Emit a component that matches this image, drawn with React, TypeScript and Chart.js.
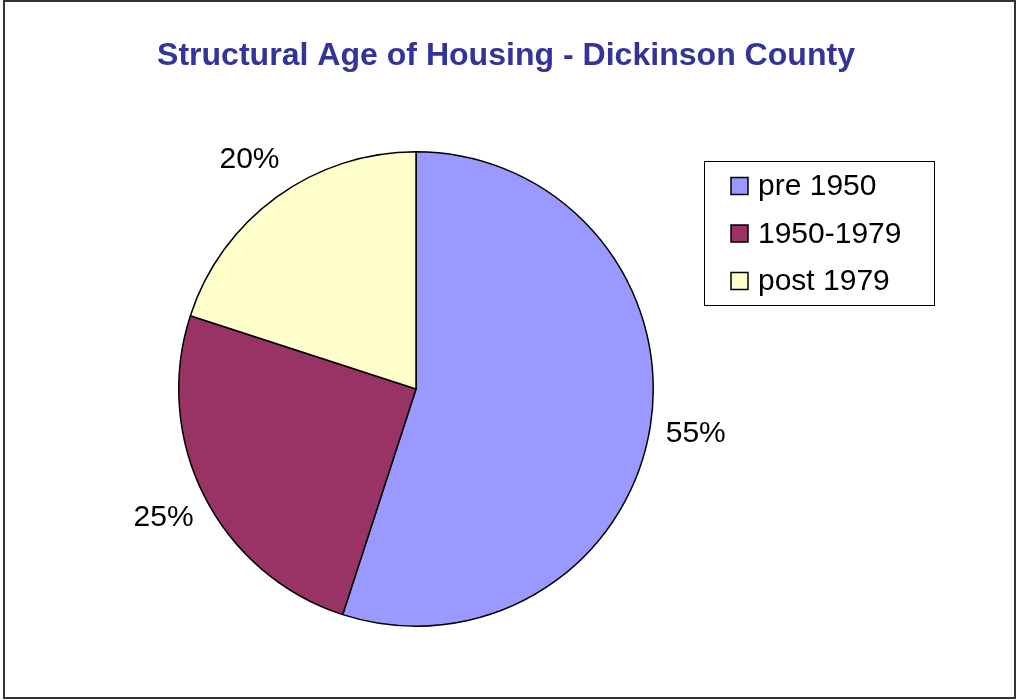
import React, { useEffect, useRef } from "react";
import { Chart, registerables } from "chart.js";

Chart.register(...registerables);

const categories = ["pre 1950", "1950-1979", "post 1979"];
const shares = [55, 25, 20];
const sliceColors = ["#9999FF", "#993366", "#FFFFCC"];
const titleText = "Structural Age of Housing - Dickinson County";

const FONT = "'Liberation Sans', Arial, sans-serif";

const decorPlugin = {
  id: "decor",
  beforeDraw(chart: any) {
    const ctx = chart.ctx;
    ctx.save();
    ctx.fillStyle = "#ffffff";
    ctx.fillRect(0, 0, chart.width, chart.height);
    ctx.strokeStyle = "#333333";
    ctx.lineWidth = 2;
    ctx.strokeRect(4, 1, 1011, 697);
    // title
    ctx.font = `bold 32px ${FONT}`;
    ctx.fillStyle = "#333399";
    ctx.textBaseline = "alphabetic";
    ctx.textAlign = "center";
    const w = ctx.measureText(titleText).width;
    const sx = 698 / w;
    ctx.translate(506, 65);
    ctx.scale(sx, 1);
    ctx.fillText(titleText, 0, 0);
    ctx.restore();
  },
  afterDatasetsDraw(chart: any) {
    const ctx = chart.ctx;
    const meta = chart.getDatasetMeta(0);
    ctx.save();
    ctx.font = `30px ${FONT}`;
    ctx.fillStyle = "#000000";
    ctx.textAlign = "center";
    ctx.textBaseline = "middle";
    meta.data.forEach((arc: any, i: number) => {
      const p = arc.getProps(["x", "y", "startAngle", "endAngle", "outerRadius"], true);
      const a = (p.startAngle + p.endAngle) / 2;
      const R = p.outerRadius + 46;
      const v = chart.data.datasets[0].data[i];
      ctx.fillText(`${v}%`, p.x + Math.cos(a) * R, p.y + Math.sin(a) * R);
    });
    // legend
    const bx = 704.5, by = 161.5, bw = 230, bh = 144;
    ctx.fillStyle = "#ffffff";
    ctx.fillRect(bx, by, bw, bh);
    ctx.strokeStyle = "#000000";
    ctx.lineWidth = 1;
    ctx.strokeRect(bx, by, bw, bh);
    const labels = chart.data.labels as string[];
    const colors = chart.data.datasets[0].backgroundColor as string[];
    labels.forEach((lab, i) => {
      const cy = 186 + i * 47.5;
      ctx.fillStyle = colors[i];
      ctx.fillRect(731, cy - 8.5, 17, 17);
      ctx.strokeStyle = "#000";
      ctx.lineWidth = 1.5;
      ctx.strokeRect(731, cy - 8.5, 17, 17);
      ctx.fillStyle = "#000";
      ctx.textAlign = "left";
      ctx.textBaseline = "middle";
      ctx.fillText(lab, 758, cy + 1);
    });
    ctx.restore();
  },
};

export default function App() {
  const ref = useRef<HTMLCanvasElement | null>(null);
  useEffect(() => {
    if (!ref.current) return;
    const chart = new Chart(ref.current, {
      type: "pie",
      data: {
        labels: categories,
        datasets: [
          {
            data: shares,
            backgroundColor: sliceColors,
            borderColor: "#000000",
            borderWidth: 1.5,
          },
        ],
      },
      options: {
        responsive: false,
        animation: false,
        layout: { padding: { left: 178, right: 363, top: 151, bottom: 73 } },
        plugins: {
          legend: { display: false },
          title: { display: false },
          tooltip: { enabled: false },
        },
      },
      plugins: [decorPlugin],
    });
    return () => chart.destroy();
  }, []);
  return (
    <div style={{ position: "fixed", left: 0, top: 0, width: 1017, height: 700, background: "#fff" }}>
      <canvas ref={ref} width={1017} height={700} />
    </div>
  );
}
